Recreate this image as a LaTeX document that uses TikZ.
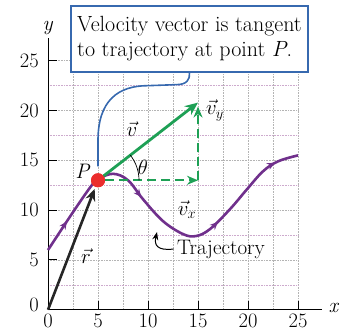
\documentclass[tikz,border=0pt]{standalone}
\usetikzlibrary{arrows.meta, decorations.markings, positioning}
\definecolor{trajpurple}{RGB}{112,48,140}
\definecolor{vecgreen}{RGB}{30,160,85}
\definecolor{callblue}{RGB}{55,105,175}
\definecolor{dotred}{RGB}{235,45,45}
\definecolor{gridgray}{RGB}{180,180,180}
\definecolor{gridpink}{RGB}{205,170,205}

\begin{document}
\begin{tikzpicture}[
  x=10pt, y=9.96pt,
  font=\fontsize{21}{25}\selectfont,
  gridline/.style={densely dotted, line width=0.6pt},
  axisline/.style={line width=1pt, black},
  ticklabel/.style={font=\fontsize{20.5}{22}\selectfont, inner sep=0pt},
  note/.style={rectangle, draw=callblue, line width=1.5pt, fill=white, align=left, minimum width=237pt, minimum height=66pt, inner sep=0pt, font=\fontsize{22}{25.5}\selectfont},
  callout/.style={draw=callblue, line width=1.6pt},
  traj/.style={draw=trajpurple, line width=2.6pt,
    postaction={decorate},
    decoration={markings,
      mark=at position 0.10 with {\arrow{Stealth[length=8pt,width=7pt]}},
      mark=at position 0.41 with {\arrow{Stealth[length=8pt,width=7pt]}},
      mark=at position 0.69 with {\arrow{Stealth[length=8pt,width=7pt]}},
      mark=at position 0.93 with {\arrow{Stealth[length=8pt,width=7pt]}}}},
  vvec/.style={draw=vecgreen, line width=2.8pt, -{Stealth[length=13pt,width=11pt]}},
  compvec/.style={draw=vecgreen, line width=1.8pt, dash pattern=on 9pt off 5pt, -{Stealth[length=11pt,width=9pt]}},
  rvec/.style={draw=black!85, line width=2.6pt, -{Stealth[length=12pt,width=10pt]}, shorten >=2pt},
  veclabel/.style={inner sep=1pt, font=\fontsize{22}{25}\selectfont}
]
\useasboundingbox (-4.8,-2.1) rectangle (29.6,31.1);

% Grid
\foreach \gx in {2.5,5,...,25}
  \draw[gridline, gridgray] (\gx,0) -- (\gx,25);
\foreach \gy in {2.5,7.5,...,22.5}
  \draw[gridline, gridpink] (0,\gy) -- (25,\gy);
\foreach \gy in {5,10,...,25}
  \draw[gridline, gridgray] (0,\gy) -- (25,\gy);

% Axes and ticks
\draw[axisline] (0,0) -- (27.4,0);
\draw[axisline] (0,0) -- (0,27.3);
\node (xlab) at (28.6,0.2) {\textit{x}};
\node (ylab) at (0,28.3) {\textit{y}};
\foreach \t in {5,10,...,25} {
  \draw[axisline] (\t,0) -- (\t,0.9);
  \draw[axisline] (0,\t) -- (0.9,\t);
  \node[ticklabel, anchor=east] (yt\t) at (-0.9,\t) {\t};
}
\foreach \t in {0,5,...,25}
  \node[ticklabel] (xt\t) at (\t,-1.15) {\t};
\node[ticklabel, anchor=east] (yt0) at (-0.9,0.5) {0};

% Points
\coordinate (O) at (0,0);
\coordinate (P) at (5,13);
\coordinate (vtip) at (15,20.8);
\coordinate (corner) at (15,13);
\coordinate (vytip) at (15,20.4);
\coordinate (trajtip) at (10.9,7.8);

% Note and callout
\node[note] (box) at (14.15,27.2) {Velocity vector is tangent\\to trajectory at point \textit{P}.};
\draw[callout] (box.south) .. controls (14.2,23.1) and (13.9,22.6) .. (12.8,22.6)
  -- (10,22.5) .. controls (7,22.5) and (5,21) .. (5,17) -- (5,14.4);

% Trajectory
\path[traj] plot[smooth, tension=0.6] coordinates {(0,6) (2.5,9.8) (4.3,12.4) (5,13.1) (6.5,13.65) (8,13) (9.5,11.1) (11.5,8.9) (13.5,7.6) (14.8,7.4) (16.2,8.1) (18.2,10.1) (19.9,12.1) (21.5,13.9) (23,14.9) (25,15.5)};
\node (trajlab) at (17.3,6.1) {Trajectory};
\draw[line width=1pt, -{Stealth[length=8pt,width=6pt]}] (trajlab.west) .. controls (10.9,5.9) and (10.6,6.5) .. (trajtip);

% Vectors
\node[circle, fill=dotred, minimum size=14pt, inner sep=0pt] (Pdot) at (P) {};
\draw[vvec] (Pdot.center) -- (vtip);
\draw[compvec] (Pdot) -- (corner);
\draw[compvec] (corner) -- (vytip);
\draw[rvec] (O) -- (Pdot);
\node[circle, fill=dotred, minimum size=14pt, inner sep=0pt] at (P) {};
\draw[line width=0.7pt] ([shift={(0:4.1)}]P) arc[start angle=0, end angle=38, radius=4.1];

% Labels
\node (Plab) at (3.5,13.9) {\textit{P}};
\node[veclabel] (thetalab) at (9.5,14.3) {$\theta$};
\node[veclabel] (vlab) at (8.4,18.1) {$\vec{v}$};
\node[veclabel] (vylab) at (16.7,20.0) {$\vec{v}_y$};
\node[veclabel] (vxlab) at (13.9,10.1) {$\vec{v}_x$};
\node[veclabel] (rlab) at (3.8,5.4) {$\vec{r}$};

\end{tikzpicture}
\end{document}
